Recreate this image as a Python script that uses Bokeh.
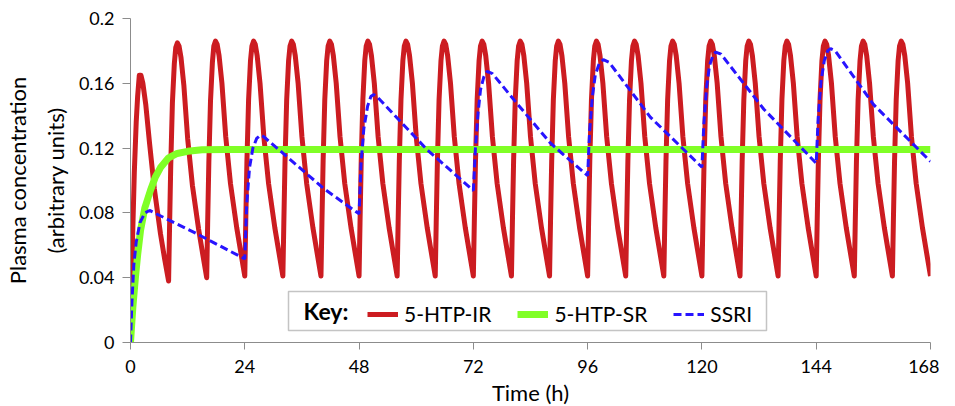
from bokeh.plotting import figure
from bokeh.models import Range1d, Legend, LegendItem, FixedTicker, Label, BoxAnnotation
from bokeh.embed import file_html
from bokeh.resources import INLINE

# ---------------- data ----------------
x_ticks = [0, 24, 48, 72, 96, 120, 144, 168]
y_ticks = [0, 0.04, 0.08, 0.12, 0.16, 0.2]
y_tick_labels = ["0", "0.04", "0.08", "0.12", "0.16", "0.2"]

# 5-HTP-IR: dose every 8 h, values read at offsets (h) after each dose
ir_dose_times = [0, 8, 16, 24, 32, 40, 48, 56, 64, 72, 80, 88, 96, 104,
                 112, 120, 128, 136, 144, 152, 160]
ir_offsets = [0, 0.2, 0.45, 0.8, 1.2, 1.5, 1.85, 2.2, 2.6, 3.2, 4.0, 5.0, 6.3, 7.2]
ir_cycles = [
    [0.000, 0.030, 0.066, 0.105, 0.136, 0.152, 0.165, 0.165, 0.160, 0.147, 0.123, 0.095, 0.067, 0.051],
    [0.038, 0.071, 0.109, 0.148, 0.172, 0.182, 0.185, 0.183, 0.176, 0.159, 0.126, 0.097, 0.070, 0.054],
    [0.040, 0.073, 0.111, 0.149, 0.173, 0.183, 0.186, 0.184, 0.177, 0.160, 0.127, 0.098, 0.071, 0.055],
    [0.041, 0.074, 0.112, 0.150, 0.174, 0.183, 0.186, 0.184, 0.177, 0.160, 0.127, 0.098, 0.071, 0.055],
    [0.041, 0.074, 0.112, 0.150, 0.174, 0.183, 0.186, 0.184, 0.177, 0.160, 0.127, 0.098, 0.071, 0.055],
    [0.041, 0.074, 0.112, 0.150, 0.174, 0.183, 0.186, 0.184, 0.177, 0.160, 0.127, 0.098, 0.071, 0.055],
    [0.041, 0.074, 0.112, 0.150, 0.174, 0.183, 0.186, 0.184, 0.177, 0.160, 0.127, 0.098, 0.071, 0.055],
    [0.041, 0.074, 0.112, 0.150, 0.174, 0.183, 0.186, 0.184, 0.177, 0.160, 0.127, 0.098, 0.071, 0.055],
    [0.041, 0.074, 0.112, 0.150, 0.174, 0.183, 0.186, 0.184, 0.177, 0.160, 0.127, 0.098, 0.071, 0.055],
    [0.041, 0.074, 0.112, 0.150, 0.174, 0.183, 0.186, 0.184, 0.177, 0.160, 0.127, 0.098, 0.071, 0.055],
    [0.041, 0.074, 0.112, 0.150, 0.174, 0.183, 0.186, 0.184, 0.177, 0.160, 0.127, 0.098, 0.071, 0.055],
    [0.041, 0.074, 0.112, 0.150, 0.174, 0.183, 0.186, 0.184, 0.177, 0.160, 0.127, 0.098, 0.071, 0.055],
    [0.041, 0.074, 0.112, 0.150, 0.174, 0.183, 0.186, 0.184, 0.177, 0.160, 0.127, 0.098, 0.071, 0.055],
    [0.041, 0.074, 0.112, 0.150, 0.174, 0.183, 0.186, 0.184, 0.177, 0.160, 0.127, 0.098, 0.071, 0.055],
    [0.041, 0.074, 0.112, 0.150, 0.174, 0.183, 0.186, 0.184, 0.177, 0.160, 0.127, 0.098, 0.071, 0.055],
    [0.041, 0.074, 0.112, 0.150, 0.174, 0.183, 0.186, 0.184, 0.177, 0.160, 0.127, 0.098, 0.071, 0.055],
    [0.041, 0.074, 0.112, 0.150, 0.174, 0.183, 0.186, 0.184, 0.177, 0.160, 0.127, 0.098, 0.071, 0.055],
    [0.041, 0.074, 0.112, 0.150, 0.174, 0.183, 0.186, 0.184, 0.177, 0.160, 0.127, 0.098, 0.071, 0.055],
    [0.041, 0.074, 0.112, 0.150, 0.174, 0.183, 0.186, 0.184, 0.177, 0.160, 0.127, 0.098, 0.071, 0.055],
    [0.041, 0.074, 0.112, 0.150, 0.174, 0.183, 0.186, 0.184, 0.177, 0.160, 0.127, 0.098, 0.071, 0.055],
    [0.041, 0.074, 0.112, 0.150, 0.174, 0.183, 0.186, 0.184, 0.177, 0.160, 0.127, 0.098, 0.071, 0.055],
]
ir_end_time = 168
ir_end_value = 0.041

# 5-HTP-SR
sr_t = [0, 0.5, 1.0, 1.5, 2.1, 3.0, 4.2, 5.2, 6.3, 8.0, 9.8, 12.0, 15.0, 20.0, 168]
sr_c = [0, 0.022, 0.039, 0.054, 0.069, 0.083, 0.094, 0.102, 0.108, 0.114, 0.1167, 0.118, 0.119, 0.1192, 0.1192]

# SSRI
ssri_t = [0, 0.3, 0.7, 1.2, 2.0, 3.0, 4.0, 14.0, 24.0,
          24.4, 25.0, 25.7, 26.5, 27.3, 28.0, 40.6, 48.0,
          48.4, 49.0, 49.8, 50.5, 51.1, 52.0, 62.3, 72.0,
          72.45, 73.0, 73.5, 74.2, 74.9, 76.0, 81.2, 88.2, 96.0,
          96.4, 97.0, 97.6, 98.4, 99.3, 100.5, 109.2, 120.0,
          120.4, 121.0, 121.6, 122.3, 122.9, 124.0, 133.0, 144.0,
          144.4, 145.0, 145.7, 146.4, 147.0, 148.0, 156.0, 168.0]
ssri_c = [0, 0.025, 0.048, 0.062, 0.074, 0.080, 0.0815, 0.067, 0.0516,
          0.085, 0.108, 0.120, 0.126, 0.128, 0.127, 0.095, 0.0794,
          0.110, 0.132, 0.146, 0.152, 0.153, 0.151, 0.119, 0.0938,
          0.1206, 0.142, 0.156, 0.164, 0.1674, 0.166, 0.1474, 0.123, 0.103,
          0.130, 0.152, 0.165, 0.172, 0.1746, 0.173, 0.139, 0.1082,
          0.135, 0.158, 0.171, 0.177, 0.1793, 0.178, 0.144, 0.1107,
          0.138, 0.161, 0.174, 0.180, 0.1814, 0.180, 0.147, 0.1117]

series_names = ["5-HTP-IR", "5-HTP-SR", "SSRI"]
legend_title = "Key:"
x_label = "Time (h)"
y_label = "Plasma concentration\n(arbitrary units)"

# ---------------- build red series from readings ----------------
ir_t, ir_c = [], []
for dose, row in zip(ir_dose_times, ir_cycles):
    for off, val in zip(ir_offsets, row):
        ir_t.append(dose + off)
        ir_c.append(val)
ir_t.append(ir_end_time)
ir_c.append(ir_end_value)

FONT = "Lato"

p = figure(frame_width=800, frame_height=324, x_range=Range1d(0, 168), y_range=Range1d(0, 0.2),
           output_backend="svg", toolbar_location=None,
           min_border_left=130, min_border_right=9, min_border_top=18, min_border_bottom=62)
p.outline_line_color = None
p.xgrid.visible = False
p.ygrid.visible = False
p.background_fill_color = "white"

r_ir = p.line(ir_t, ir_c, line_color="#CC1C21", line_width=5, line_join="round")
r_sr = p.line(sr_t, sr_c, line_color="#80FF26", line_width=7, line_join="round")
r_ssri = p.line(ssri_t, ssri_c, line_color="#2814FF", line_width=3, line_dash="8 4")

for ax in (p.xaxis[0], p.yaxis[0]):
    ax.axis_line_color = "#8C8C8C"
    ax.major_tick_line_color = "#8C8C8C"
    ax.minor_tick_line_color = None
    ax.major_tick_in = 0
    ax.major_label_text_font = FONT
    ax.major_label_text_font_size = "18px"
    ax.major_label_text_color = "black"
    ax.axis_label_text_font = FONT
    ax.axis_label_text_font_size = "22px"
    ax.axis_label_text_font_style = "normal"
    ax.axis_label_text_color = "black"

xa = p.xaxis[0]
xa.ticker = FixedTicker(ticks=x_ticks)
xa.major_tick_out = 7
xa.major_label_standoff = 10
xa.axis_label = x_label
xa.axis_label_standoff = 3

ya = p.yaxis[0]
ya.ticker = FixedTicker(ticks=y_ticks)
ya.major_label_overrides = {v: s for v, s in zip(y_ticks, y_tick_labels)}
ya.major_tick_out = 8
ya.major_label_standoff = 8
ya.axis_label = y_label
ya.axis_label_standoff = 7
ya.axis_label_text_line_height = 1.4

# legend box, "Key:" and the entries
p.add_layout(BoxAnnotation(left=158, right=636, bottom=12, top=51,
                           left_units="screen", right_units="screen",
                           bottom_units="screen", top_units="screen",
                           fill_color="white", fill_alpha=1.0,
                           line_color="#3A3A3A", line_width=1.5, level="annotation"))
p.add_layout(Label(x=173, y=32, x_units="screen", y_units="screen", text=legend_title,
                   text_font=FONT, text_font_size="23px", text_font_style="bold",
                   text_color="black", text_align="left", text_baseline="middle"))

legend = Legend(
    items=[LegendItem(label=series_names[0], renderers=[r_ir]),
           LegendItem(label=series_names[1], renderers=[r_sr]),
           LegendItem(label=series_names[2], renderers=[r_ssri])],
    orientation="horizontal",
    location=(237, 16),
    label_text_font=FONT, label_text_font_size="21px", label_text_color="black",
    glyph_width=31, glyph_height=20, label_height=20, label_standoff=6, spacing=26, padding=6,
    border_line_color=None, background_fill_alpha=0.0,
    margin=0,
)
p.add_layout(legend)

open("out.html", "w").write(file_html(p, INLINE))
